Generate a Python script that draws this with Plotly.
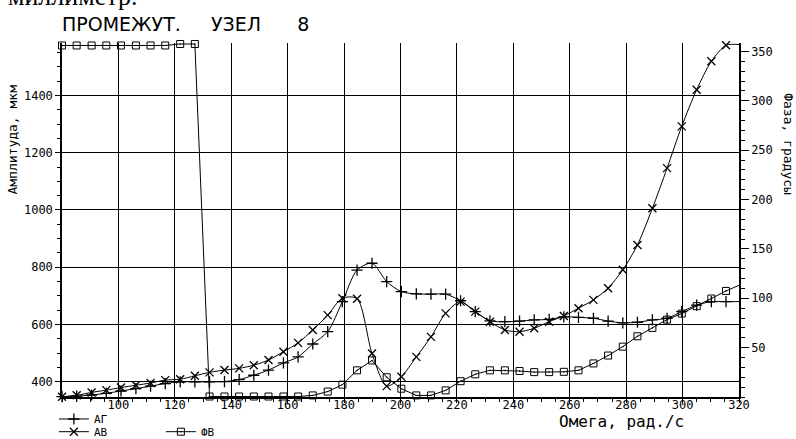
import plotly.graph_objects as go

# ---- data ----
omega = [80.0, 85.2, 90.5, 95.7, 100.9, 106.2, 111.4, 116.6, 121.9, 127.1,
         132.3, 137.6, 142.8, 148.0, 153.2, 158.5, 163.7, 168.9, 174.2, 179.4,
         184.6, 189.9, 195.1, 200.3, 205.6, 210.8, 216.0, 221.3, 226.5, 231.7,
         237.0, 242.2, 247.4, 252.7, 257.9, 263.1, 268.4, 273.6, 278.8, 284.0,
         289.3, 294.5, 299.7, 305.0, 310.2, 315.4, 320.7]

a_g = [348, 350, 354, 360, 368, 376, 385, 394, 400, 400,
       400, 401, 408, 423, 441, 466, 487, 532, 575, 680,
       790, 814, 750, 715, 707, 706, 706, 683, 645, 613,
       610, 612, 616, 618, 627, 625, 622, 612, 606, 608,
       616, 622, 645, 668, 680, 680, 680]

a_v = [348, 353, 363, 371, 380, 388, 396, 406, 409, 421,
       433, 441, 447, 458, 476, 505, 536, 581, 633, 692,
       690, 499, 385, 418, 487, 557, 639, 680, 645, 610,
       581, 575, 587, 610, 630, 657, 686, 727, 791, 878,
       1006, 1146, 1292, 1420, 1519, 1575, 1577]

phi_v = [356, 356, 356, 356, 356, 356, 356, 356, 357.5, 357.5,
         0.5, 0.5, 0.5, 0.5, 0.5, 0.5, 0.5, 1.6, 5.5, 12.5,
         27, 37, 20, 8.4, 1.6, 1.6, 6.7, 16, 23, 27,
         27, 26.3, 25.2, 25.2, 25.5, 27, 34, 42, 51, 61.5,
         70, 78.4, 84.5, 92, 99.7, 107.4, 114]

x_ticks = [100, 120, 140, 160, 180, 200, 220, 240, 260, 280, 300, 320]
amp_ticks = [400, 600, 800, 1000, 1200, 1400]
phase_ticks = [50, 100, 150, 200, 250, 300, 350]

FONT = "DejaVu Sans Mono"

fig = go.Figure()

fig.add_trace(go.Scatter(
    x=omega, y=a_g, name="АГ", mode="lines+markers",
    line=dict(color="black", width=1, shape="spline", smoothing=0.8),
    marker=dict(symbol="cross-thin", size=8, line=dict(color="black", width=1.3)),
    cliponaxis=False, legend="legend", showlegend=True))

fig.add_trace(go.Scatter(
    x=omega, y=a_v, name="АВ", mode="lines+markers",
    line=dict(color="black", width=1, shape="spline", smoothing=0.8),
    marker=dict(symbol="x-thin", size=8, line=dict(color="black", width=1.3)),
    cliponaxis=False, legend="legend2", showlegend=True))

fig.add_trace(go.Scatter(
    x=omega, y=phi_v, name="ФВ", mode="lines+markers", yaxis="y2",
    line=dict(color="black", width=1),
    marker=dict(symbol="square-open-dot", size=7, color="black",
                line=dict(color="black", width=1)),
    cliponaxis=False, legend="legend2", showlegend=True))

axis_common = dict(showline=True, linecolor="black", linewidth=1.5,
                   zeroline=False, tickfont=dict(family=FONT, size=12, color="black"),
                   tickcolor="black")

fig.update_layout(
    width=796, height=439,
    showlegend=True,
    margin=dict(l=62, r=57, t=43, b=42, autoexpand=False),
    paper_bgcolor="white", plot_bgcolor="white",
    font=dict(family=FONT, color="black"),
    xaxis=dict(range=[80, 320], tickvals=x_ticks, ticktext=[str(v) for v in x_ticks],
               showgrid=True, gridcolor="black", gridwidth=1.3,
               ticks="outside", ticklen=4, tickwidth=1, ticklabelstandoff=-8,
               minor=dict(dtick=5, tick0=0, ticks="outside", ticklen=3,
                          tickcolor="black", showgrid=False),
               **axis_common),
    yaxis=dict(range=[347, 1583], tickvals=amp_ticks, ticktext=[str(v) for v in amp_ticks],
               showgrid=True, gridcolor="black", gridwidth=1.3,
               ticks="outside", ticklen=5, tickwidth=1,
               minor=dict(dtick=50, tick0=0, ticks="outside", ticklen=3,
                          tickcolor="black", showgrid=False),
               **axis_common),
    yaxis2=dict(range=[0, 358.5], overlaying="y", side="right",
                tickvals=phase_ticks, ticktext=[str(v) for v in phase_ticks],
                showgrid=False, ticks="outside", ticklen=8, tickwidth=1,
                minor=dict(dtick=10, tick0=0, ticks="outside", ticklen=4,
                           tickcolor="black"),
                **axis_common),
    legend=dict(x=-0.012, y=-0.0621, xanchor="left", yanchor="middle",
                orientation="h", bgcolor="rgba(0,0,0,0)",
                font=dict(family=FONT, size=11, color="black"),
                itemwidth=30),
    legend2=dict(x=-0.012, y=-0.098, xanchor="left", yanchor="middle",
                 orientation="h", bgcolor="rgba(0,0,0,0)",
                 font=dict(family=FONT, size=11, color="black"),
                 entrywidth=62, entrywidthmode="pixels", itemwidth=30),
    annotations=[
        dict(text="миллиметр.", xref="paper", yref="paper", x=-0.082, y=1.085,
             xanchor="left", yanchor="bottom", showarrow=False,
             font=dict(family="Liberation Serif", size=26, color="black")),
        dict(text="ПРОМЕЖУТ.\u00a0\u00a0\u00a0\u00a0\u00a0УЗЕЛ\u00a0\u00a0\u00a0\u00a0\u00a0\u00a08",
             xref="paper", yref="paper",
             x=-0.003, y=1.055, xanchor="left", yanchor="middle", showarrow=False,
             font=dict(family="DejaVu Sans", size=19, color="black")),
        dict(text="Амплитуда, мкм", xref="paper", yref="paper",
             x=-0.073, y=0.726, xanchor="center", yanchor="middle",
             textangle=-90, showarrow=False,
             font=dict(family=FONT, size=13, color="black")),
        dict(text="Фаза, градусы", xref="paper", yref="paper",
             x=1.072, y=0.715, xanchor="center", yanchor="middle",
             textangle=90, showarrow=False,
             font=dict(family=FONT, size=13, color="black")),
        dict(text="Омега, рад./с", xref="paper", yref="paper",
             x=0.826, y=-0.068, xanchor="center", yanchor="middle",
             showarrow=False, font=dict(family=FONT, size=16, color="black")),
    ],
)

fig.write_html("out.html", config={"displayModeBar": False},
               post_script="document.body.style.margin='0';document.body.style.padding='0';")
